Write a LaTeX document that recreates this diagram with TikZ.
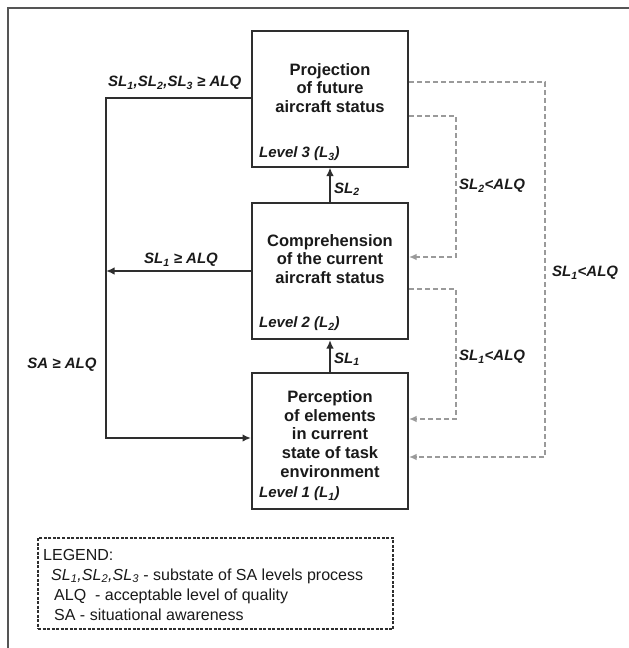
\documentclass[tikz,border=0pt]{standalone}
\usepackage{fontspec}
\setmainfont{Liberation Sans}
\usetikzlibrary{arrows.meta}
\newcommand{\sbs}[1]{\textsubscript{#1}}
\definecolor{lineC}{HTML}{2E2E2E}
\definecolor{dashC}{HTML}{9A9A9A}
\definecolor{txtC}{HTML}{1A1A1A}
\definecolor{frameC}{HTML}{555555}
\begin{document}
\begin{tikzpicture}[x=1pt,y=-1pt,
  levelbox/.style={draw=lineC,line width=2pt,minimum width=156pt,minimum height=136pt,inner sep=0pt},
  boxtext/.style={align=center,text=txtC,inner sep=0pt,font=\fontsize{16.5}{18.6}\selectfont\bfseries},
  lbl/.style={text=txtC,inner sep=0pt,font=\fontsize{15}{17}\selectfont\bfseries\itshape},
  conn/.style={draw=lineC,line width=1.8pt},
  arr/.style={-{Latex[length=8.5pt,width=7.5pt]}},
  darr/.style={-{Latex[length=7.5pt,width=6.5pt]}},
  dsh/.style={draw=dashC,line width=1.4pt,dash pattern=on 5pt off 3pt},
  legtext/.style={text=txtC,inner sep=0pt,anchor=west,font=\fontsize{16}{18}\selectfont}
]
\useasboundingbox (0,0) rectangle (629,648);
\fill[white] (0,0) rectangle (629,648);
% outer frame
\draw[frameC,line width=1.3pt] (8,648) -- (8,8) -- (629,8);

% boxes
\node[levelbox] (b3) at (330,98.5) {};
\node[levelbox] (b2) at (330,271) {};
\node[levelbox] (b1) at (330,440.5) {};

\node[boxtext] (t3) at (330,88) {Projection\\of future\\aircraft status};
\node[boxtext] (t2) at (330,259) {Comprehension\\of the current\\aircraft status};
\node[boxtext] (t1) at (330,434) {Perception\\of elements\\in current\\state of task\\environment};

\node[lbl,anchor=west] (l3) at (259,154) {Level 3 (L\sbs{3})};
\node[lbl,anchor=west] (l2) at (259,324) {Level 2 (L\sbs{2})};
\node[lbl,anchor=west] (l1) at (259,494) {Level 1 (L\sbs{1})};

% up arrows
\draw[conn,arr] (b2.north) -- (b3.south);
\draw[conn,arr] (b1.north) -- (b2.south);
\node[lbl,anchor=west] (s2) at (334,189) {SL\sbs{2}};
\node[lbl,anchor=west] (s1) at (334,359) {SL\sbs{1}};

% left feedback
\coordinate (tl) at (106,98);
\coordinate (bl) at (106,438);
\draw[conn,arr] (b3.west |- tl) -- (tl) -- (bl) -- (bl -| b1.west);
\draw[conn,arr] (b2.west) -- (b2.west -| tl);
\node[lbl,anchor=west] (g123) at (108,83) {SL\sbs{1},SL\sbs{2},SL\sbs{3} ≥ ALQ};
\node[lbl] (g1) at (181,260) {SL\sbs{1} ≥ ALQ};
\node[lbl] (gsa) at (62,365) {SA ≥ ALQ};

% dashed returns
\coordinate (o1) at (545,82);
\coordinate (o2) at (545,457);
\draw[dsh,darr] (b3.east |- o1) -- (o1) -- (o2) -- (o2 -| b1.east);
\coordinate (m1) at (456,116);
\coordinate (m2) at (456,257);
\draw[dsh,darr] (b3.east |- m1) -- (m1) -- (m2) -- (m2 -| b2.east);
\coordinate (n1) at (456,289);
\coordinate (n2) at (456,419);
\draw[dsh,darr] (b2.east |- n1) -- (n1) -- (n2) -- (n2 -| b1.east);
\node[lbl,anchor=west] (d2) at (459,186) {SL\sbs{2}<ALQ};
\node[lbl,anchor=west] (d1r) at (552,273) {SL\sbs{1}<ALQ};
\node[lbl,anchor=west] (d1) at (459,357) {SL\sbs{1}<ALQ};

% legend
\node[draw=lineC,line width=1.3pt,dash pattern=on 3pt off 1.5pt,minimum width=355pt,minimum height=91pt,inner sep=0pt] (leg) at (215.5,583.5) {};
\node[legtext] (lg0) at (43,555) {LEGEND:};
\node[legtext] (lg1) at (51,576) {\itshape SL\sbs{1},SL\sbs{2},SL\sbs{3}\upshape\ - substate of SA levels process};
\node[legtext] (lg2) at (54,596) {ALQ\ \ - acceptable level of quality};
\node[legtext] (lg3) at (54,615) {SA - situational awareness};
\end{tikzpicture}
\end{document}
